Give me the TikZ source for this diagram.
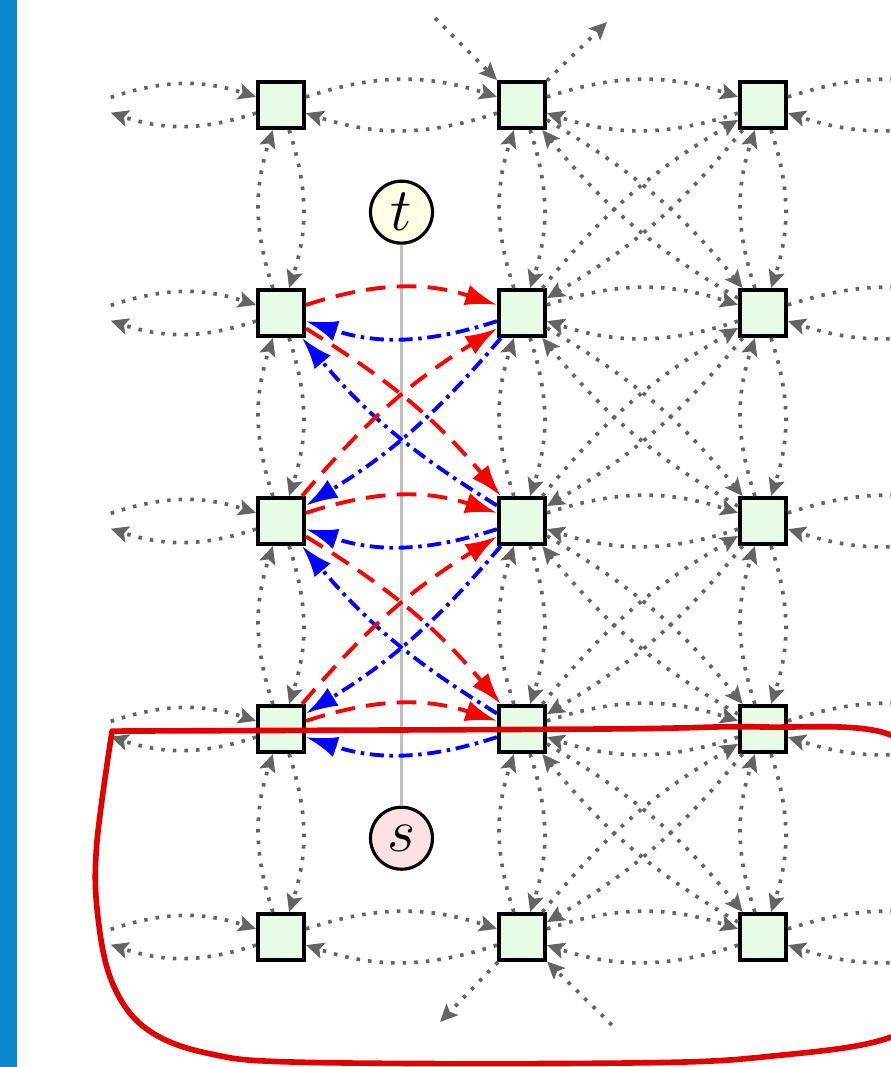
\documentclass[tikz,border=0pt]{standalone}
\usetikzlibrary{arrows.meta}

\definecolor{nodegreen}{RGB}{230,252,230}
\definecolor{tyellow}{RGB}{255,253,228}
\definecolor{spink}{RGB}{252,226,226}
\definecolor{edgegray}{RGB}{100,100,100}
\definecolor{framebar}{RGB}{10,134,204}
\definecolor{cutred}{RGB}{225,0,0}

\tikzset{
  vtx/.style={draw=black, line width=1.15pt, fill=nodegreen, minimum size=0.46cm, inner sep=0pt},
  ghost/.style={minimum size=0.46cm, inner sep=0pt},
  term/.style={circle, draw=black, line width=0.9pt, minimum size=0.62cm, inner sep=0pt, font=\LARGE},
  arc/.style={edgegray, line width=1.05pt, dash pattern=on 1pt off 2.3pt, -{Stealth[length=5pt,width=4.6pt,inset=1pt]}},
  fwd/.style={red, line width=1.1pt, dash pattern=on 5.6pt off 3.2pt, -{Latex[length=9pt,width=6pt]}},
  bwd/.style={blue, line width=1.1pt, dash pattern=on 4pt off 1.6pt on 1pt off 1.6pt, -{Latex[length=9pt,width=6pt]}},
  cut/.style={cutred, line width=1.6pt, line join=round},
}

\begin{document}
\begin{tikzpicture}[x=2.41cm,y=-2.08cm]
    \useasboundingbox (-1.166,-0.505) rectangle (2.531,4.625);
    \clip (-1.166,-0.505) rectangle (2.531,4.625);
    \fill[framebar] (-1.166,-0.505) rectangle (-1.095,4.625);

    % grid vertices and the ones just outside the frame
    \foreach \i in {0,1,2}
        \foreach \j in {0,...,4}
            \node[vtx] (v\i\j) at (\i,\j) {};
    \foreach \j in {0,...,4} {
        \node[ghost] (l\j) at (-0.805,\j) {};
        \node[ghost] (r\j) at (3,\j) {};
    }
    \coordinate (nw) at (0.639,-0.418);
    \coordinate (ne) at (1.353,-0.399);
    \coordinate (sw) at (0.660,4.409);
    \coordinate (se) at (1.373,4.423);

    \node[term, fill=tyellow] (t) at (0.5,0.515) {$t$};
    \node[term, fill=spink] (s) at (0.5,3.525) {$s$};
    \draw[gray!50, line width=1.1pt] (t) -- (s);

    % horizontal arcs
    \foreach \j in {0,...,4} {
        \draw[arc] (l\j) to[bend left=18] (v0\j);
        \draw[arc] (v0\j) to[bend left=18] (l\j);
        \draw[arc] (v1\j) to[bend left=18] (v2\j);
        \draw[arc] (v2\j) to[bend left=18] (v1\j);
        \draw[arc] (v2\j) to[bend left=18] (r\j);
        \draw[arc] (r\j) to[bend left=18] (v2\j);
    }
    \foreach \j in {0,4} {
        \draw[arc] (v0\j) to[bend left=18] (v1\j);
        \draw[arc] (v1\j) to[bend left=18] (v0\j);
    }
    % vertical arcs
    \foreach \i in {0,1,2}
        \foreach \j/\k in {0/1,1/2,2/3,3/4} {
            \draw[arc] (v\i\j) to[bend left=18] (v\i\k);
            \draw[arc] (v\i\k) to[bend left=18] (v\i\j);
        }
    % diagonal arcs
    \foreach \j/\k in {0/1,1/2,2/3,3/4} {
        \draw[arc] (v1\j) to[bend left=10] (v2\k);
        \draw[arc] (v2\k) to[bend left=10] (v1\j);
        \draw[arc] (v1\k) to[bend left=10] (v2\j);
        \draw[arc] (v2\j) to[bend left=10] (v1\k);
    }
    \draw[arc] (nw) -- (v10);
    \draw[arc] (v10) -- (ne);
    \draw[arc] (v14) -- (sw);
    \draw[arc] (se) -- (v14);

    % red forward, blue backward
    \foreach \j in {1,2,3} {
        \draw[fwd] (v0\j) to[bend left=18] (v1\j);
        \draw[bwd] (v1\j) to[bend left=18] (v0\j);
    }
    \foreach \j/\k in {1/2,2/1,2/3,3/2} {
        \draw[fwd] (v0\j) to[bend left=9] (v1\k);
        \draw[bwd] (v1\k) to[bend left=9] (v0\j);
    }

    % the cut
    \draw[cut] plot[smooth, tension=0.6] coordinates {(-0.701,3.010) (1.324,3.0) (1.988,2.99)
        (2.531,3.029) (2.755,3.341) (2.776,4.255) (2.531,4.481) (2.041,4.572) (1.490,4.605)
        (0.120,4.603) (-0.300,4.560) (-0.560,4.440) (-0.700,4.220) (-0.760,3.900)
        (-0.765,3.560) (-0.701,3.010)} -- cycle;
\end{tikzpicture}
\end{document}
